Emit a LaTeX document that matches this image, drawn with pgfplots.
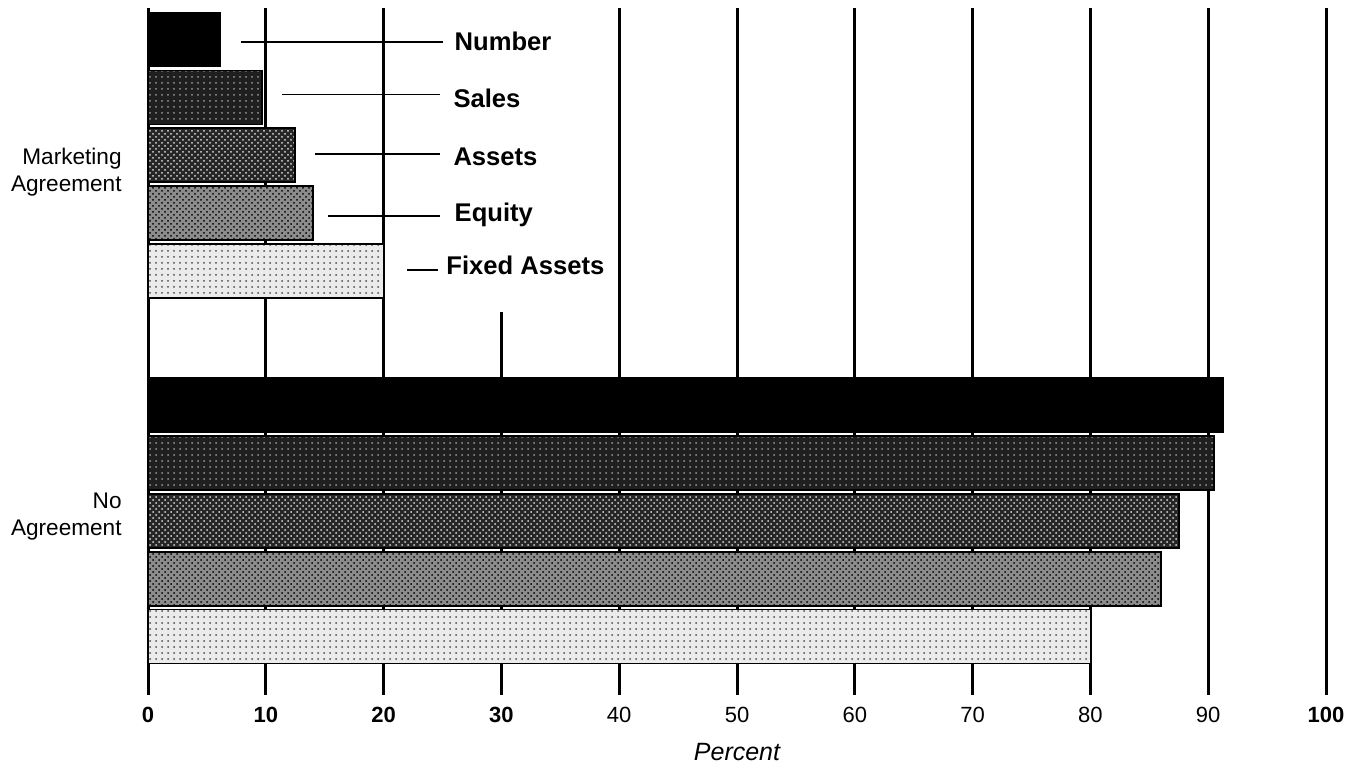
\documentclass[border=0pt]{standalone}
\usepackage{fontspec}
\setmainfont{Liberation Sans}
\usepackage{pgfplots}
\pgfplotsset{compat=1.18}
\usetikzlibrary{patterns}

\newcommand\lo[1]{\raisebox{-3pt}{#1}}

\begin{document}
\begin{tikzpicture}
\begin{axis}[
    set layers,
    scale only axis,
    width=589pt,
    height=343.5pt,
    xmin=0, xmax=100,
    ymin=-0.548, ymax=11.34,
    y dir=reverse,
    axis x line*=bottom,
    axis y line*=left,
    axis line style={draw=none},
    major tick length=0pt,
    xtick={0,10,20,40,50,60,70,80,90,100},
    xticklabels={\textbf{0},\textbf{10},\textbf{20},\lo{40},\lo{50},\lo{60},\lo{70},\lo{80},\lo{90},\lo{\textbf{100}}},
    extra x ticks={30},
    extra x tick labels={\textbf{30}},
    extra x tick style={xmajorgrids=false},
    xticklabel style={font=\fontsize{11}{13}\selectfont, inner sep=0pt, yshift=-6pt},
    xmajorgrids,
    grid style={black, line width=1.5pt},
    ytick={2.29,8.26},
    yticklabels={Marketing\\Agreement, No\\Agreement},
    yticklabel style={font=\fontsize{11.3}{13.5}\selectfont, align=right, inner sep=0pt, xshift=-13pt},
    xlabel={\itshape Percent},
    xlabel style={font=\fontsize{12.5}{15}\selectfont, at={(axis description cs:0.5,0)}, anchor=north, inner sep=0pt, yshift=-24pt},
    hbar/.style={xbar, bar shift=0pt, bar width=0.934, draw=black, line width=0.8pt},
]
% partial gridline at 30 (drawn first so the bars cover it)
\addplot[black, line width=1.5pt, forget plot] coordinates {(30,4.71) (30,11.34)};

% Number
\addplot[hbar, fill=black] coordinates {(6.1,0) (91.3,6.32)};
% Sales
\addplot[hbar, fill=black!88, postaction={pattern=dots, pattern color=white!60!black}] coordinates {(9.7,1) (90.5,7.33)};
% Assets
\addplot[hbar, fill=black!85, postaction={pattern=crosshatch dots, pattern color=white!85!black}] coordinates {(12.5,2) (87.5,8.33)};
% Equity
\addplot[hbar, fill=black!45, postaction={pattern=crosshatch dots, pattern color=black}] coordinates {(14.0,3) (86.0,9.33)};
% Fixed Assets
\addplot[hbar, fill=black!8, postaction={pattern=dots, pattern color=black!70}] coordinates {(20.0,4) (80.0,10.33)};

% leader lines and labels
\draw[line width=0.6pt] (axis cs:7.9,0.04) -- (axis cs:25.0,0.04);
\draw[line width=0.6pt] (axis cs:11.4,0.945) -- (axis cs:24.8,0.945);
\draw[line width=0.6pt] (axis cs:14.2,1.98) -- (axis cs:24.8,1.98);
\draw[line width=0.6pt] (axis cs:15.3,3.05) -- (axis cs:24.8,3.05);
\draw[line width=1.1pt] (axis cs:22.0,3.98) -- (axis cs:24.6,3.98);
\node[anchor=base west, inner sep=0pt, font=\fontsize{12.8}{15}\selectfont\bfseries] at (axis cs:26.0,0.18) {Number};
\node[anchor=base west, inner sep=0pt, font=\fontsize{12.8}{15}\selectfont\bfseries] at (axis cs:25.9,1.18) {Sales};
\node[anchor=base west, inner sep=0pt, font=\fontsize{12.8}{15}\selectfont\bfseries] at (axis cs:25.9,2.17) {Assets};
\node[anchor=base west, inner sep=0pt, font=\fontsize{12.8}{15}\selectfont\bfseries] at (axis cs:26.0,3.15) {Equity};
\node[anchor=base west, inner sep=0pt, font=\fontsize{12.8}{15}\selectfont\bfseries] at (axis cs:25.3,4.07) {Fixed Assets};
\end{axis}
\pgfresetboundingbox
\useasboundingbox (-74pt,-36pt) rectangle (604pt,347.5pt);
\end{tikzpicture}
\end{document}
